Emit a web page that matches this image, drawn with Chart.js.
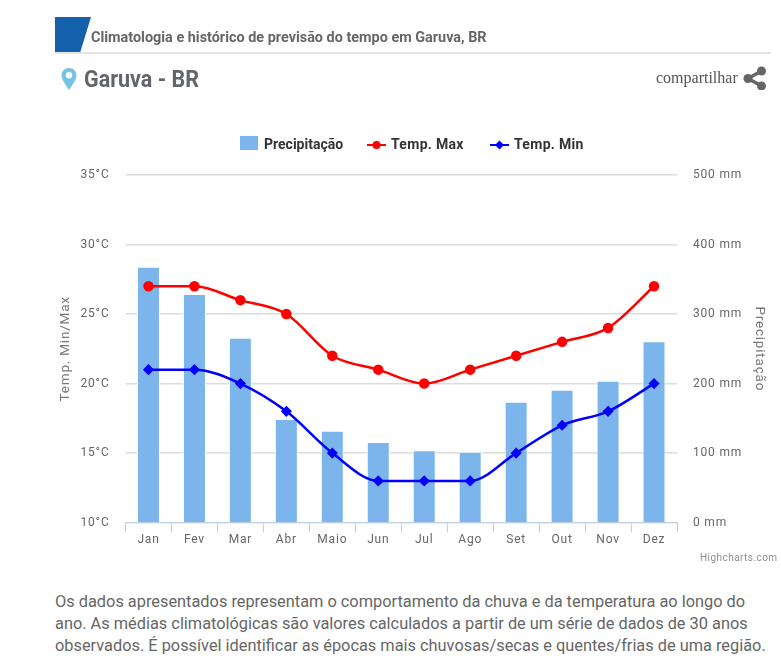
<!DOCTYPE html>
<html>
<head>
<meta charset="utf-8">
<script src="https://cdn.jsdelivr.net/npm/chart.js@4"></script>
<style>
body { margin: 0; background: #fff; font-family: Roboto, sans-serif; color: #666; }
#page { position: relative; width: 781px; height: 663px; overflow: hidden; }
#page > * { position: absolute; }
#myChart { left: 0; top: 0; }
#title { left: 91px; top: 28px; font-size: 15.5px; font-weight: 700; white-space: nowrap; transform-origin: left top; transform: scaleX(0.93); color: #666; }
#rule { left: 55px; top: 52px; width: 716px; height: 2px; background: #e4e4e6; }
#city { left: 84px; top: 66px; font-size: 23px; font-weight: 700; white-space: nowrap; transform-origin: left top; transform: scaleX(0.935); color: #62666a; }
#share { left: 656px; top: 69px; font-family: "Liberation Serif", serif; font-size: 16px; color: #555; }
#legend { left: 0; top: 135px; width: 781px; height: 20px; font-size: 14px; font-weight: 700; color: #333; }
#legend span { position: absolute; top: 1px; white-space: nowrap; }
#leg1, #leg2 { letter-spacing: 0.3px; }
#credit { left: 700px; top: 552px; font-size: 10px; letter-spacing: 0.45px; color: #909090; }
#note { left: 55px; top: 591px; width: 716px; font-size: 16.35px; line-height: 22px; color: #666; }
</style>
</head>
<body>
<div id="page">
  <canvas id="myChart" width="781" height="580"></canvas>
  <svg style="left:55px;top:17px" width="37" height="36"><polygon points="0,0 36,0 25,36 0,36" fill="#1560ab"/></svg>
  <div id="title">Climatologia e histórico de previsão do tempo em Garuva, BR</div>
  <div id="rule"></div>
  <svg style="left:60px;top:67px" width="18" height="24" viewBox="0 0 18 24"><path d="M9 1C4.6 1 1.5 4.3 1.5 8.3 1.5 13 6.5 19 9 23c2.500-4 7.500-10 7.500-14.700C16.500 4.300 13.400 1 9 1zm0 10.500a3.200 3.200 0 1 1 0-6.400 3.200 3.200 0 0 1 0 6.400z" fill="#74c4e4"/></svg>
  <div id="city">Garuva - BR</div>
  <div id="share">compartilhar</div>
  <svg style="left:743px;top:66px" width="24" height="24" viewBox="0 0 24 24"><g fill="#666"><circle cx="18.500" cy="5" r="4.500"/><circle cx="5" cy="12.500" r="4.500"/><circle cx="18.500" cy="20" r="4.500"/></g><path d="M18.500 5 5 12.500 18.500 20" fill="none" stroke="#666" stroke-width="3.500"/></svg>
  <div id="legend">
    <svg style="position:absolute;left:240px;top:1px" width="19" height="15"><rect width="18" height="14" fill="#7cb5ec"/></svg>
    <span id="leg0" style="left:264px"></span>
    <svg style="position:absolute;left:367px;top:3px" width="20" height="14"><path d="M0 7H19" stroke="#f00" stroke-width="2"/><circle cx="9.500" cy="7" r="4" fill="#f00"/></svg>
    <span id="leg1" style="left:391px"></span>
    <svg style="position:absolute;left:490px;top:3px" width="20" height="14"><path d="M0 7H19" stroke="#00f" stroke-width="2"/><path d="M9.500 2.500 14 7 9.500 11.500 5 7z" fill="#00f"/></svg>
    <span id="leg2" style="left:514px"></span>
  </div>
  <div id="credit">Highcharts.com</div>
  <div id="note">Os dados apresentados representam o comportamento da chuva e da temperatura ao longo do ano. As médias climatológicas são valores calculados a partir de um série de dados de 30 anos observados. É possível identificar as épocas mais chuvosas/secas e quentes/frias de uma região.</div>
</div>
<script>
'use strict';

// categories and values
const months = ['Jan', 'Fev', 'Mar', 'Abr', 'Maio', 'Jun', 'Jul', 'Ago', 'Set', 'Out', 'Nov', 'Dez'];
const rain = [368, 329, 266, 149, 132, 116, 104, 102, 174, 191, 204, 261];
const tempMax = [27, 27, 26, 25, 22, 21, 20, 21, 22, 23, 24, 27];
const tempMin = [21, 21, 20, 18, 15, 13, 13, 13, 15, 17, 18, 20];
const seriesNames = ['Precipitação', 'Temp. Max', 'Temp. Min'];

seriesNames.forEach((name, i) => {
    document.getElementById('leg' + i).textContent = name;
});

const tickFont = { family: 'Roboto', size: 12 };
const titleFont = { family: 'Roboto', size: 13.5 };

// spaced out tick text, same as the original
const spacing = {
    id: 'spacing',
    beforeDraw(chart) {
        chart.ctx.letterSpacing = '0.8px';
    }
};

const config = {
    type: 'bar',
    data: {
        labels: months,
        datasets: [
            {
                type: 'line',
                label: seriesNames[1],
                data: tempMax,
                yAxisID: 'y',
                borderColor: '#ff0000',
                backgroundColor: '#ff0000',
                borderWidth: 2.5,
                cubicInterpolationMode: 'monotone',
                pointStyle: 'circle',
                pointRadius: 4,
                order: 2
            },
            {
                type: 'line',
                label: seriesNames[2],
                data: tempMin,
                yAxisID: 'y',
                borderColor: '#0000ff',
                backgroundColor: '#0000ff',
                borderWidth: 2.5,
                cubicInterpolationMode: 'monotone',
                pointStyle: 'rectRot',
                pointRadius: 3.8,
                order: 1
            },
            {
                label: seriesNames[0],
                data: rain,
                yAxisID: 'y2',
                backgroundColor: '#7cb5ec',
                borderColor: '#ffffff',
                borderWidth: 1,
                barPercentage: 0.5,
                categoryPercentage: 1,
                order: 3
            }
        ]
    },
    options: {
        responsive: false,
        animation: false,
        layout: { padding: { top: 175, bottom: 33, left: 58, right: 14 } },
        plugins: { legend: { display: false }, tooltip: { enabled: false } },
        scales: {
            x: {
                offset: true,
                grid: { drawOnChartArea: false, drawTicks: true, tickLength: 10, color: '#c0d0e0', offset: true },
                border: { color: '#c0d0e0' },
                ticks: { font: tickFont, color: '#666', padding: 0, maxRotation: 0 }
            },
            y: {
                position: 'left',
                min: 10,
                max: 35,
                grid: { color: '#dcdcdc', lineWidth: 1.5, drawTicks: false },
                border: { display: false },
                ticks: { stepSize: 5, font: tickFont, color: '#666', padding: 16, callback: v => v + '°C' },
                title: { display: true, text: 'Temp. Min/Max', font: titleFont, color: '#777', padding: 0 },
                afterFit(axis) { axis.width = 67.5; }
            },
            y2: {
                position: 'right',
                min: 0,
                max: 500,
                grid: { drawOnChartArea: false, drawTicks: false },
                border: { display: false },
                ticks: { stepSize: 100, font: tickFont, color: '#666', padding: 16, callback: v => v + ' mm' },
                title: { display: true, text: 'Precipitação', font: titleFont, color: '#777', padding: 0 },
                afterFit(axis) { axis.width = 90; }
            }
        }
    },
    plugins: [spacing]
};

const ctx = document.getElementById('myChart').getContext('2d');
const myChart = new Chart(ctx, config);
</script>
</body>
</html>
